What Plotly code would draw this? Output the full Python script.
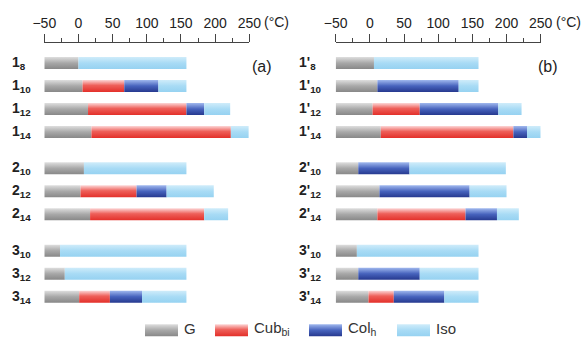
import plotly.graph_objects as go

# ---------------- data ----------------
labels_a = ["1<sub>8</sub>", "1<sub>10</sub>", "1<sub>12</sub>", "1<sub>14</sub>",
            "2<sub>10</sub>", "2<sub>12</sub>", "2<sub>14</sub>",
            "3<sub>10</sub>", "3<sub>12</sub>", "3<sub>14</sub>"]
labels_b = ["1'<sub>8</sub>", "1'<sub>10</sub>", "1'<sub>12</sub>", "1'<sub>14</sub>",
            "2'<sub>10</sub>", "2'<sub>12</sub>", "2'<sub>14</sub>",
            "3'<sub>10</sub>", "3'<sub>12</sub>", "3'<sub>14</sub>"]
groups = [0, 0, 0, 0, 1, 1, 1, 2, 2, 2]

t_start = -50
# transition (end) temperatures of each phase, °C; None = phase absent
a_G_end   = [0, 6, 14, 19, 8, 3, 17, -27, -20, 1]
a_Cub_end = [None, 67, 158, 223, None, 85, 184, None, None, 46]
a_Col_end = [None, 117, 184, None, None, 129, None, None, None, 93]
a_Iso_end = [158, 158, 222, 249, 158, 198, 219, 158, 158, 158]

b_G_end   = [6, 11, 4, 16, -17, 14, 11, -19, -17, -2]
b_Cub_end = [None, None, 73, 210, None, None, 140, None, None, 35]
b_Col_end = [None, 130, 188, 230, 58, 146, 186, None, 73, 109]
b_Iso_end = [159, 159, 222, 250, 199, 200, 218, 159, 159, 159]

tick_vals = [-50, 0, 50, 100, 150, 200, 250]
phase_names = ["G", "Cub<sub>bi</sub>", "Col<sub>h</sub>", "Iso"]

# ---------------- style ----------------
grad = [
    [[0, "#888888"], [0.5, "#a8a8a8"], [1, "#dedede"]],   # G
    [[0, "#e3302a"], [0.55, "#ee605a"], [1, "#fcd6d6"]],  # Cub
    [[0, "#26398f"], [0.5, "#4763bd"], [1, "#a0b8ee"]],   # Col
    [[0, "#96d2f1"], [0.5, "#a8dbf5"], [1, "#cfecfa"]],   # Iso
]
half_h = 0.26
group_gap = 0.58
pos = [i + g * group_gap for i, g in enumerate(groups)]
txt = "#222222"
axc = "#444444"
FONT = "Liberation Sans, Arial, sans-serif"

fig = go.Figure()


def seg(x0, x1, r, k, xa):
    fig.add_trace(go.Scatter(
        x=[x0, x1, x1, x0, x0],
        y=[r - half_h, r - half_h, r + half_h, r + half_h, r - half_h],
        mode="none", fill="toself",
        fillgradient=dict(type="vertical", colorscale=grad[k]),
        xaxis=xa, yaxis="y", showlegend=False, hoverinfo="skip"))


def panel(G, C, L, I, xa):
    for i, r in enumerate(pos):
        prev = t_start
        for k, ends in enumerate([G, C, L, I]):
            e = ends[i]
            if e is None:
                continue
            seg(prev, e, r, k, xa)
            prev = e


panel(a_G_end, a_Cub_end, a_Col_end, a_Iso_end, "x")
panel(b_G_end, b_Cub_end, b_Col_end, b_Iso_end, "x2")

# legend (on a full-width pixel-like helper axis)
leg_x = [145, 215, 309, 397]
leg_w = 33
leg_r = 11.62
for k, lx in enumerate(leg_x):
    seg(lx, lx + leg_w, leg_r, k, "x3")

annotations = []
for k, lx in enumerate(leg_x):
    annotations.append(dict(x=lx + leg_w + 4, xref="x3", y=leg_r, yref="y", yshift=2,
                            text=phase_names[k], showarrow=False, xanchor="left",
                            yanchor="middle", font=dict(size=15, color="#333", family=FONT)))

for lab_list, xp in [(labels_a, 10), (labels_b, 297)]:
    for lab, r in zip(lab_list, pos):
        annotations.append(dict(x=xp / 587, xref="paper", y=r, yref="y",
                                text="<b>" + lab + "</b>", showarrow=False,
                                xanchor="left", yanchor="middle",
                                font=dict(size=14, color=txt, family=FONT)))

annotations += [
    dict(x=261.5 / 587, xref="paper", y=0.15, yref="y", text="(a)", showarrow=False,
         font=dict(size=16, color=txt, family=FONT)),
    dict(x=560 / 587, xref="paper", y=0.15, yref="y", text="(b)", showarrow=False,
         font=dict(size=16, color=txt, family=FONT)),
    dict(x=250, xref="x", y=1, yref="paper", yshift=21, xshift=13, text="(°C)",
         showarrow=False, xanchor="left", yanchor="middle",
         font=dict(size=14, color=txt, family=FONT)),
    dict(x=250, xref="x2", y=1, yref="paper", yshift=21, xshift=13, text="(°C)",
         showarrow=False, xanchor="left", yanchor="middle",
         font=dict(size=14, color=txt, family=FONT)),
]

xcommon = dict(range=[-50, 250], side="top", showgrid=False, zeroline=False,
               showline=True, linecolor=axc, linewidth=1, automargin=False,
               tickmode="array", tickvals=tick_vals, ticks="outside", ticklen=8,
               tickcolor=axc, tickwidth=1,
               minor=dict(tickmode="linear", tick0=-50, dtick=25, ticks="outside",
                          ticklen=4, tickcolor=axc, tickwidth=1, showgrid=False),
               tickfont=dict(size=14, color=txt, family=FONT), fixedrange=True)

fig.update_layout(
    width=587, height=339, autosize=False,
    margin=dict(l=0, r=0, t=43, b=0, pad=0, autoexpand=False),
    paper_bgcolor="white", plot_bgcolor="rgba(0,0,0,0)",
    xaxis=dict(domain=[44.3 / 587, 249.3 / 587], anchor="y", **xcommon),
    xaxis2=dict(domain=[335.7 / 587, 540.7 / 587], anchor="y", **xcommon),
    xaxis3=dict(domain=[0, 1], range=[0, 587], anchor="y", visible=False,
                fixedrange=True, automargin=False),
    yaxis=dict(range=[12.0, -0.8696], visible=False, fixedrange=True, automargin=False),
    annotations=annotations,
    showlegend=False,
)

fig.write_html("out.html", config={"displayModeBar": False},
               post_script="document.body.style.margin='0';document.body.style.padding='0';")
